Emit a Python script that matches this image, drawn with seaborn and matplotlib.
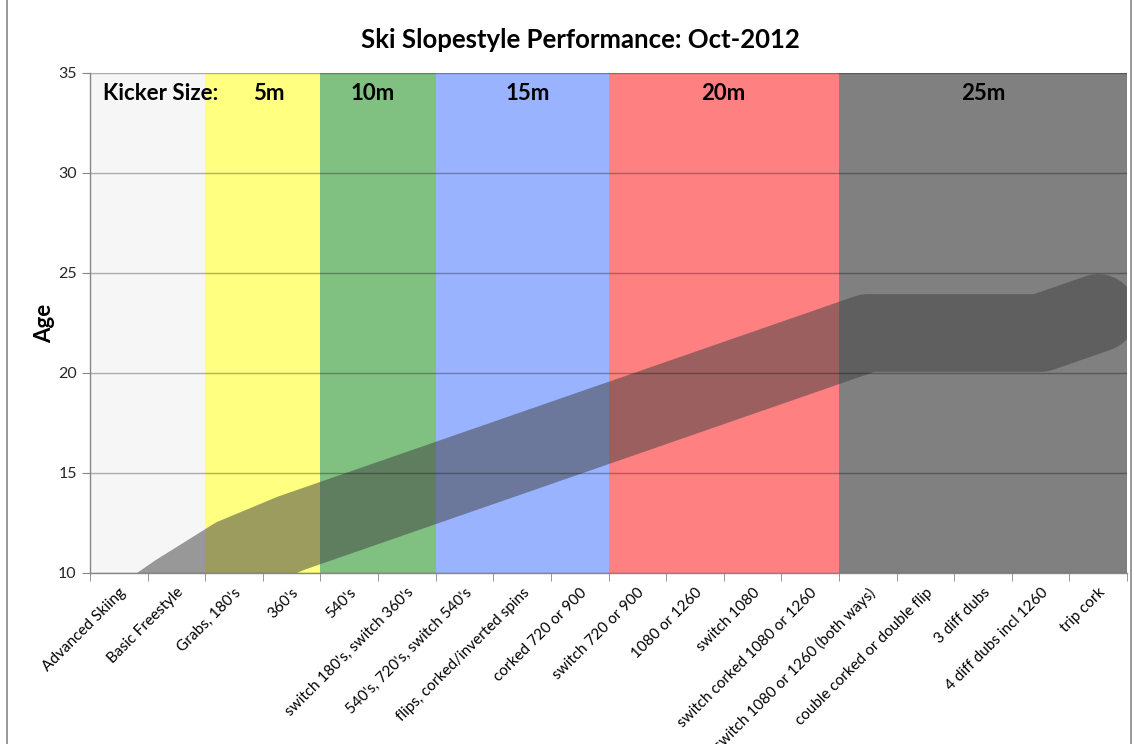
import matplotlib
matplotlib.use('Agg')
import matplotlib.pyplot as plt
import seaborn as sns
import pandas as pd
import numpy as np

# tricks in order of difficulty
tricks = ['Advanced Skiing', 'Basic Freestyle', "Grabs, 180's", "360's", "540's",
          "switch 180's, switch 360's", "540's, 720's, switch 540's",
          'flips, corked/inverted spins', 'corked 720 or 900', 'switch 720 or 900',
          '1080 or 1260', 'switch 1080', 'switch corked 1080 or 1260',
          'switch 1080 or 1260 (both ways)', 'couble corked or double flip',
          '3 diff dubs', '4 diff dubs incl 1260', 'trip cork']
ages = [7, 9, 10.8, 12, 13, 14, 15, 16, 17, 18, 19, 20, 21, 22, 22, 22, 22, 23]

# kicker size bands (first / last trick index in each band)
kicker_labels = ['5m', '10m', '15m', '20m', '25m']
kicker_first = [2, 4, 6, 9, 13]
kicker_last = [3, 5, 8, 12, 17]
kicker_colors = ['#ffff80', '#80c080', '#99b3ff', '#ff8080', '#808080']

df = pd.DataFrame({'trick': tricks, 'age': ages, 'pos': np.arange(len(tricks))})

sns.set_style('white')
plt.rcParams['font.family'] = ['Lato', 'DejaVu Sans']

fig = plt.figure(figsize=(11.34, 7.44), dpi=100)
ax = fig.add_axes([90/1134, 1-573/744, (1127-90)/1134, (573-73)/744])

# background bands
ax.axvspan(-0.5, 1.5, color='#f6f6f6', lw=0, zorder=0)
for f, l, c in zip(kicker_first, kicker_last, kicker_colors):
    ax.axvspan(f-0.5, l+0.5, color=c, lw=0, zorder=0)

ax.set_yticks([10, 15, 20, 25, 30, 35])
ax.grid(axis='y', color='black', alpha=0.3, lw=1, zorder=1)
ax.set_axisbelow(False)

# thick translucent line
sns.lineplot(data=df, x='pos', y='age', ax=ax, color='#424242', alpha=0.52,
             linewidth=56, solid_capstyle='round', solid_joinstyle='round', zorder=2)

# band labels
ax.text(-0.27, 34, 'Kicker Size:', fontsize=16, fontweight='bold', ha='left', va='center',
        color='black', zorder=3)
label_x = [2.6, 4.4, 7.1, 10.5, 15.0]
for lx, lab in zip(label_x, kicker_labels):
    ax.text(lx, 34, lab, fontsize=16, fontweight='bold', ha='center', va='center',
            color='black', zorder=3)

ax.set_xlim(-0.5, len(tricks)-0.5)
ax.set_ylim(10, 35)
ax.set_xticks(df['pos'])
ax.set_xticklabels(tricks, rotation=45, ha='right', va='top', rotation_mode='anchor',
                   fontsize=11, color='black')
ax.set_xticks(np.arange(-0.5, len(tricks)), minor=True)
ax.tick_params(axis='x', which='major', length=0, pad=9)
ax.tick_params(axis='x', which='minor', length=6, color='#868686', direction='out', bottom=True)
ax.tick_params(axis='y', length=6, color='#868686', direction='out', left=True, labelsize=11.5,
               labelcolor='#262626')
ax.set_xlabel('')
ax.set_ylabel('Age', fontsize=16, fontweight='bold', labelpad=2, color='black')

for s in ['top', 'right']:
    ax.spines[s].set_visible(False)
for s in ['left', 'bottom']:
    ax.spines[s].set_color('#868686')
    ax.spines[s].set_linewidth(1)
    ax.spines[s].set_zorder(4)

fig.text(580/1134, 1-40/744, 'Ski Slopestyle Performance: Oct-2012', fontsize=18.5,
         fontweight='bold', ha='center', va='center', color='black')

# chart border
fig.add_artist(plt.Rectangle((7/1134, -0.01), (1131-7)/1134, 1.02, transform=fig.transFigure,
                             fill=False, edgecolor='#868686', lw=1.2))

fig.savefig('out.png', dpi=100)
